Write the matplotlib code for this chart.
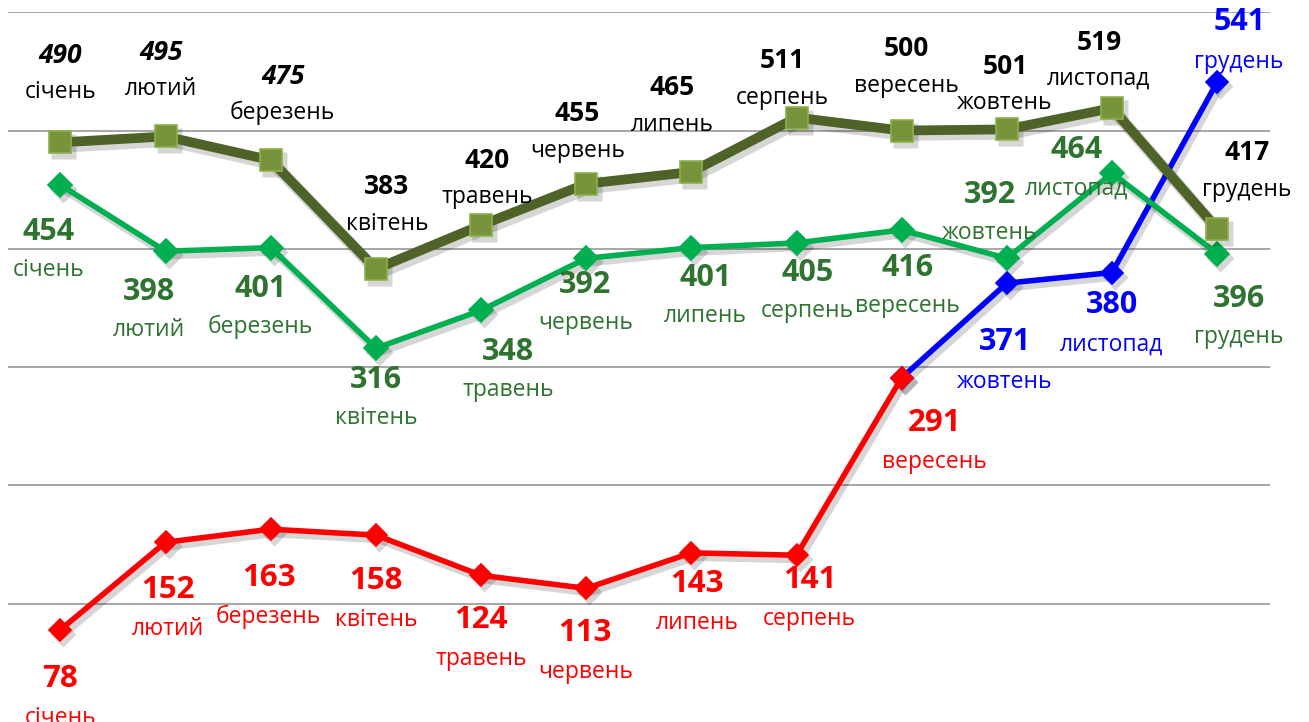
import matplotlib
matplotlib.use("Agg")
import matplotlib.pyplot as plt
from matplotlib.transforms import offset_copy
import numpy as np

plt.rcParams['font.family'] = ['Open Sans', 'DejaVu Sans']

months = ["січень", "лютий", "березень", "квітень", "травень", "червень",
          "липень", "серпень", "вересень", "жовтень", "листопад", "грудень"]

olive_vals = [490, 495, 475, 383, 420, 455, 465, 511, 500, 501, 519, 417]
green_vals = [454, 398, 401, 316, 348, 392, 401, 405, 416, 392, 464, 396]
red_vals = [78, 152, 163, 158, 124, 113, 143, 141, 291]
blue_vals = [291, 371, 380, 541]   # вересень..грудень

# label offsets in pixels (dx, dy up) for the number; month name sits below it
olive_off = [(0, 87), (-5, 84), (12, 84), (11, 82), (6, 65), (-9, 70),
             (-19, 84), (-14, 57), (5, 82), (-2, 63), (-13, 66), (30, 76)]
green_off = [(-12, -47), (-17, -41), (-10, -41), (0, -32), (27, -42), (-1, -27),
             (14, -30), (11, -30), (6, -38), (-17, 63), (-35, 23), (22, -45)]
red_off = [(0, -49), (2, -48), (-2, -49), (0, -46), (0, -45), (-1, -45),
           (6, -31), (13, -25), (33, -45)]
blue_off = [None, (-2, -59), (0, -32), (22, 60)]

fig = plt.figure(figsize=(13.09, 7.22), dpi=100)
ax = fig.add_axes([0.006, 0.0, 0.964, 0.983])
ax.set_xlim(-0.5, 11.5)
ax.set_ylim(0, 600)
for s in ax.spines.values():
    s.set_visible(False)
ax.set_xticks([])
ax.set_yticks([])
for g in range(100, 601, 100):
    ax.axhline(g, color="#a6a6a6", lw=1.4, zorder=0)

shadow_tr = offset_copy(ax.transData, fig=fig, x=3, y=-4, units="dots")


def series(xs, ys, col, lw, mk, ms, mfc, mec, z):
    # soft drop shadow first, then the line itself
    ax.plot(xs, ys, color="black", alpha=0.16, lw=lw + 2, marker=mk, ms=ms + 2,
            mec="none", mfc="black", transform=shadow_tr, zorder=z - 0.5,
            clip_on=False, solid_joinstyle="round")
    ax.plot(xs, ys, color=col, lw=lw, marker=mk, ms=ms, mfc=mfc, mec=mec,
            mew=1.2, zorder=z, clip_on=False)


x = np.arange(12)
series(x[8:], blue_vals, "#0000ff", 4, "D", 11, "#0000ff", "#0000ff", 2)
series(x[:9], red_vals, "#ff0000", 4, "D", 11, "#ff0000", "#ff0000", 3)
series(x, green_vals, "#00b050", 4, "D", 12, "#00b050", "#00b050", 4)
series(x, olive_vals, "#4f6228", 7, "s", 16, "#77933c", "#8db04a", 5)


def put(xi, v, off, name, col, num_size, style="normal", gap=37):
    dx, dy = off
    ax.annotate(str(v), (xi, v), xytext=(dx, dy), textcoords="offset pixels",
                ha="center", va="center", fontsize=num_size, fontweight="bold",
                fontstyle=style, color=col, zorder=6, annotation_clip=False)
    ax.annotate(name, (xi, v), xytext=(dx, dy - gap), textcoords="offset pixels",
                ha="center", va="center", fontsize=16.5, color=col, zorder=6,
                annotation_clip=False)


for i in range(12):
    put(i, olive_vals[i], olive_off[i], months[i], "black", 19,
        "italic" if i < 3 else "normal", 37)
    put(i, green_vals[i], green_off[i], months[i], "#2e7330", 22, gap=38)
for i in range(9):
    put(i, red_vals[i], red_off[i], months[i], "#ff0000", 22.5, gap=39)
for k in range(1, 4):
    put(8 + k, blue_vals[k], blue_off[k], months[8 + k], "#0000ff", 22, gap=40)

fig.savefig("out.png", dpi=100)
